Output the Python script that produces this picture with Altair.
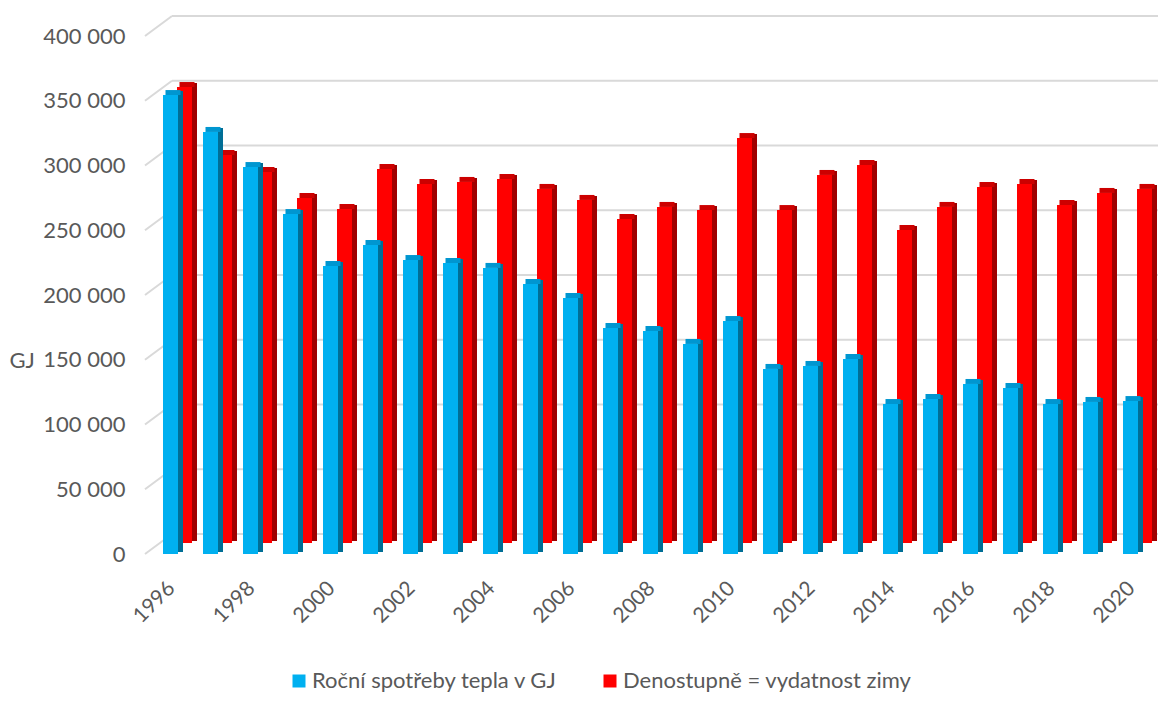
import altair as alt
import pandas as pd

years = list(range(1996, 2021))
heat = [354400, 325900, 298800, 262500, 222400, 238600, 227000, 224700, 220900,
        208500, 197700, 174500, 172200, 162200, 179900, 142900, 145200, 150600,
        115800, 119700, 131300, 128200, 115800, 117400, 118100]
degree = [352100, 299600, 286500, 266400, 257900, 288800, 277200, 278800, 281100,
          273400, 264900, 250200, 259500, 257100, 312700, 257100, 284200, 291900,
          241700, 259500, 274900, 277200, 261000, 270300, 273400]
series_names = ["Roční spotřeby tepla v GJ", "Denostupně = vydatnost zimy"]
y_ticks = [0, 50000, 100000, 150000, 200000, 250000, 300000, 350000, 400000]
x_label_years = list(range(1996, 2021, 2))

FONT = "Lato"
GREY = "#595959"
W, H = 1013, 518

df = pd.DataFrame({
    "year": years * 2,
    "series": [series_names[0]] * len(years) + [series_names[1]] * len(years),
    "value": heat + degree,
})
grid_df = pd.DataFrame({"tick": y_ticks})

x_scale = alt.Scale(domain=years, range=[12, 1012], paddingInner=0, paddingOuter=0)
y_scale = alt.Scale(domain=[0, 400000], nice=False, zero=True)
color_scale = alt.Scale(domain=series_names, range=["#00B0F0", "#FF0000"])

y_axis = alt.Axis(values=y_ticks, grid=False, domain=False, ticks=False,
                  labelPadding=20, labelFontSize=22, labelFont=FONT, labelColor=GREY,
                  labelExpr="replace(format(datum.value, ','), ',', ' ')",
                  title="GJ", titleAngle=0, titleX=-136, titleY=324,
                  titleAlign="left", titleBaseline="middle",
                  titleFontSize=22, titleFont=FONT, titleColor=GREY,
                  titleFontWeight="normal")
x_axis = alt.Axis(values=x_label_years, labelAngle=-45, domain=False, ticks=False,
                  grid=False, labelPadding=23, labelOffset=-13,
                  labelFontSize=21, labelFont=FONT, labelColor=GREY, title=None)
legend = alt.Legend(title=None, orient="none", direction="horizontal",
                    legendX=143, legendY=634, symbolType="square",
                    symbolSize=169, symbolStrokeWidth=0, labelLimit=500,
                    labelFontSize=22, labelFont=FONT, labelColor=GREY,
                    labelOffset=2, columnPadding=41)

# back-wall gridlines (3D look)
grid_h = alt.Chart(grid_df).mark_rule(color="#d9d9d9", strokeWidth=2, yOffset=-20).encode(
    y=alt.Y("tick:Q", scale=y_scale, axis=y_axis),
    x=alt.value(27),
    x2=alt.value(W),
)
grid_d = alt.Chart(grid_df).mark_rule(color="#d9d9d9", strokeWidth=2, y2Offset=-20).encode(
    y=alt.Y("tick:Q", scale=y_scale, axis=y_axis),
    y2=alt.Y2("tick:Q"),
    x=alt.value(0),
    x2=alt.value(27),
)


def series_layers(name, dx, dy, front, top, side):
    base = alt.Chart(df).transform_filter(alt.datum.series == name)
    xenc = alt.X("year:O", scale=x_scale, axis=x_axis)
    yenc = alt.Y("value:Q", scale=y_scale, axis=y_axis)
    side_l = base.mark_bar(width=5, xOffset=dx + 10, yOffset=dy - 4, y2Offset=dy - 2,
                           color=side).encode(x=xenc, y=yenc, y2=alt.datum(0))
    top_l = base.mark_bar(width=15, xOffset=dx + 2.5, yOffset=dy - 5, y2Offset=dy,
                          color=top).encode(x=xenc, y=yenc, y2=alt.Y2("value:Q"))
    front_l = base.mark_bar(width=15, xOffset=dx, yOffset=dy, y2Offset=dy).encode(
        x=xenc, y=yenc, y2=alt.datum(0),
        color=alt.Color("series:N", scale=color_scale, legend=legend))
    return [side_l, top_l, front_l]


red_layers = series_layers(series_names[1], 7.5, -11, "#FF0000", "#CC0000", "#A00000")
blue_layers = series_layers(series_names[0], -6.5, 0, "#00B0F0", "#0096D0", "#006E96")

chart = alt.layer(grid_h, grid_d, *red_layers, *blue_layers).properties(
    width=W, height=H,
    padding={"left": 137, "top": 28, "right": 0, "bottom": 140},
    autosize=alt.AutoSizeParams(type="none"),
).configure_view(stroke=None)

chart.save("out.html", embed_options={"renderer": "svg", "actions": False})
